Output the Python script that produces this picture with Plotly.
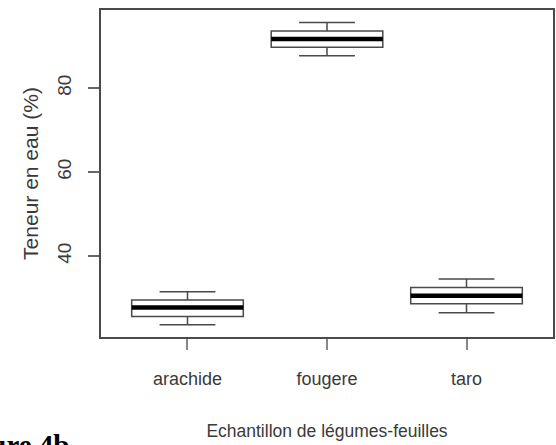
import plotly.graph_objects as go

categories = ["arachide", "fougere", "taro"]
positions = [1, 2, 3]
lower_whisker = [23.6, 87.7, 26.5]
q1 = [25.6, 89.7, 28.6]
median = [27.7, 91.7, 30.5]
q3 = [29.5, 93.6, 32.5]
upper_whisker = [31.5, 95.6, 34.5]
y_ticks = [40, 60, 80]

BOX_W = 0.8
TXT = "#3a3a3a"
LINE = "#4a4a4a"

fig = go.Figure()
fig.add_trace(go.Box(
    x=positions, q1=q1, median=median, q3=q3,
    lowerfence=lower_whisker, upperfence=upper_whisker,
    width=BOX_W, whiskerwidth=0.5,
    fillcolor="white", line=dict(color=LINE, width=1.5),
    boxpoints=False, hoverinfo="skip", showlegend=False,
))
for p, m in zip(positions, median):
    fig.add_trace(go.Scatter(
        x=[p - BOX_W / 2, p + BOX_W / 2], y=[m, m], mode="lines",
        line=dict(color="black", width=4.5), showlegend=False, hoverinfo="skip",
    ))

fig.update_layout(
    width=556, height=445,
    margin=dict(l=101, r=3, t=10, b=108),
    paper_bgcolor="white", plot_bgcolor="white",
    font=dict(family="Liberation Sans, Arial", color=TXT),
    xaxis=dict(
        range=[0.38, 3.62], tickmode="array", tickvals=positions, ticktext=categories,
        showgrid=False, zeroline=False, showline=True, mirror=True, automargin=False,
        linecolor=LINE, linewidth=1.5, ticks="outside", ticklen=11,
        tickcolor="#888888", tickwidth=1.5,
        tickfont=dict(size=18, color=TXT),
        ticklabelstandoff=14,
        title=dict(text="Echantillon de légumes-feuilles",
                   font=dict(size=17.5, color=TXT), standoff=36),
    ),
    yaxis=dict(
        range=[20.7, 98.6], tickmode="array", tickvals=y_ticks,
        showgrid=False, zeroline=False, showline=True, mirror=True, automargin=False,
        linecolor=LINE, linewidth=1.5, ticks="outside", ticklen=11,
        tickcolor="#666666", tickwidth=1.5, tickangle=-90,
        tickfont=dict(size=19, color=TXT), ticklabelstandoff=10,
        title=dict(text="Teneur en eau (%)", font=dict(size=21, color=TXT), standoff=9),
    ),
    annotations=[dict(
        text="<b>Figure 4b</b>", xref="paper", yref="paper",
        x=-0.064, y=-0.33, xanchor="right", yanchor="middle", showarrow=False,
        font=dict(family="Liberation Serif, Times New Roman", size=29, color="black"),
    )],
)

fig.write_html(
    "out.html",
    config={"displayModeBar": False},
    post_script="document.body.style.margin='0';document.body.style.overflow='hidden';",
)
